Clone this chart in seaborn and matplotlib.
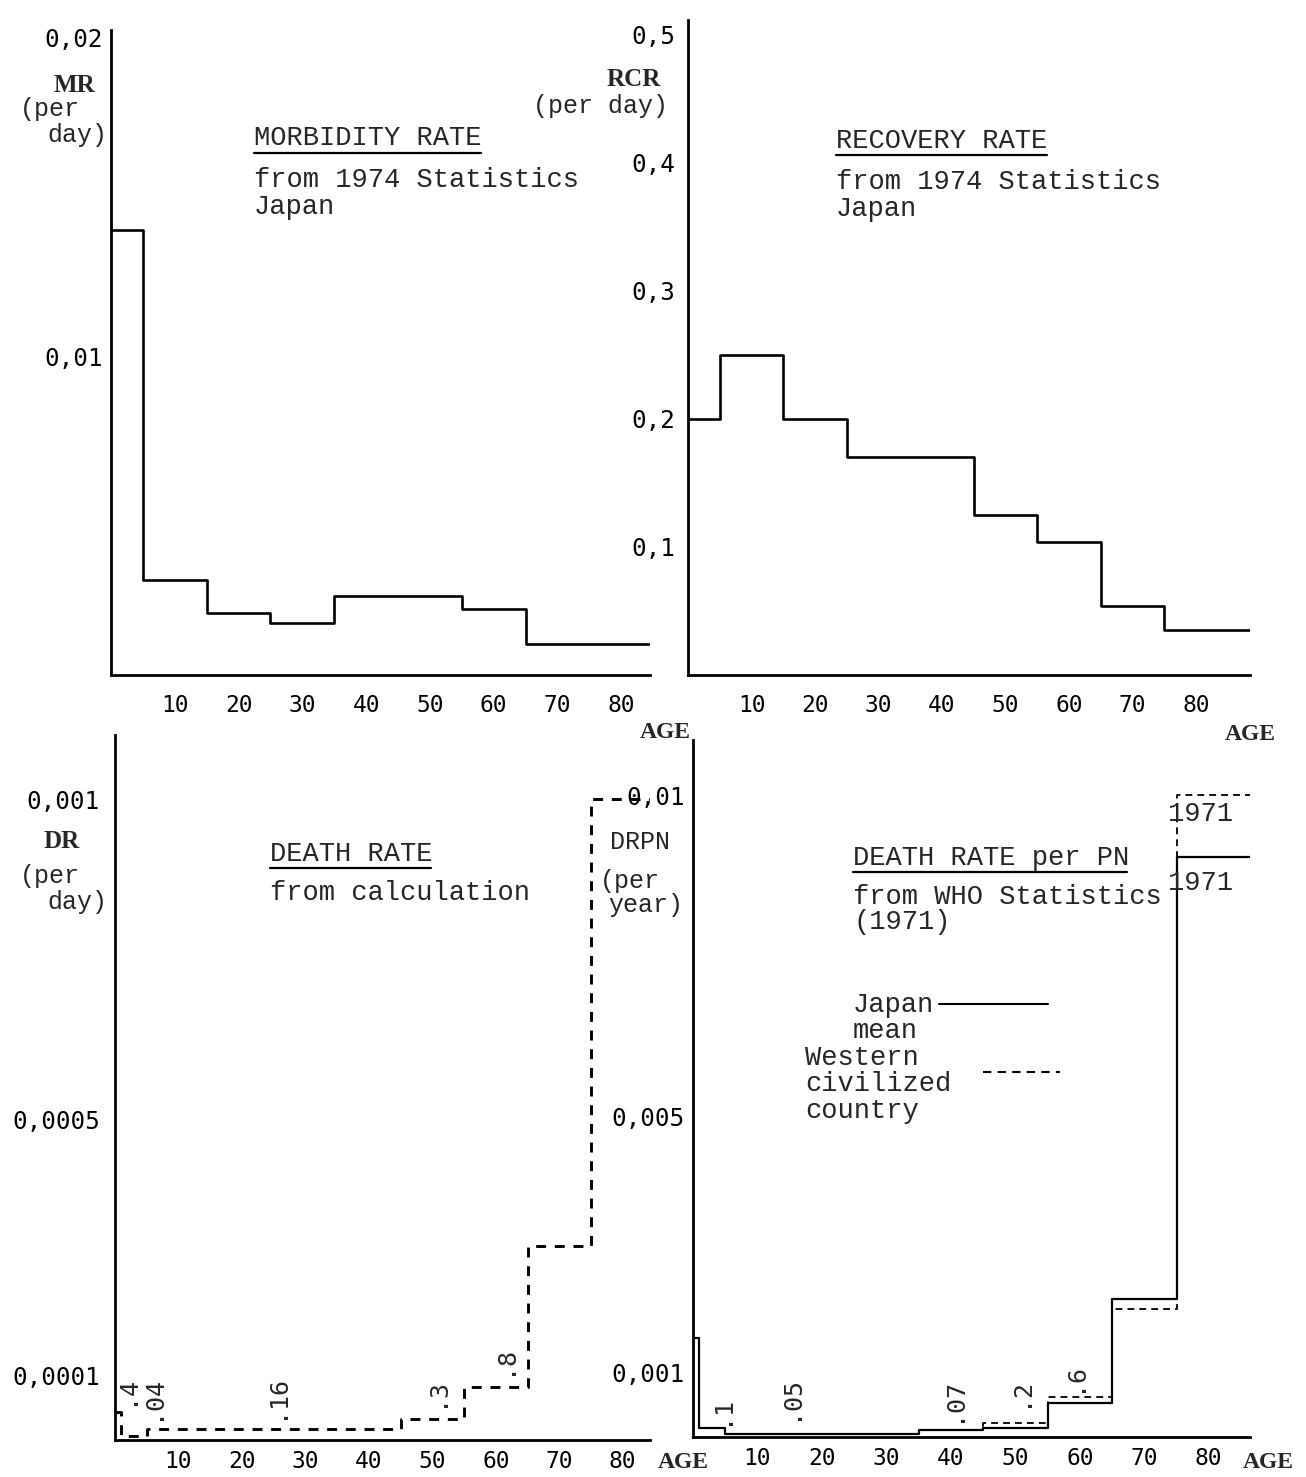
"""
plot.py
Age profiles of morbidity, recovery and death rates (Japan), four step panels.
"""

import pandas as pd
import seaborn as sns
import matplotlib.pyplot as plt
from matplotlib.lines import Line2D

# ---- data (age band edges in years, one value per band) -------------------
MR_EDGES = [0, 5, 15, 25, 35, 55, 65, 84.5]
MR_VALUES = [0.01395, 0.00298, 0.00194, 0.00163, 0.00248, 0.00207, 0.00097]

RCR_EDGES = [0, 5, 15, 25, 45, 55, 65, 75, 88.5]
RCR_VALUES = [0.200, 0.250, 0.200, 0.170, 0.125, 0.104, 0.054, 0.035]

DR_EDGES = [0, 1, 5, 45, 55, 65, 75, 85]
DR_VALUES = [0.000043, 0.000006, 0.000017, 0.000032, 0.000082, 0.000303, 0.001]
DR_NOTES = [".4", ".04", ".16", ".3", ".8"]

DRPN_EDGES = [0, 1, 5, 35, 45, 55, 65, 75, 86.4]
DRPN_JAPAN = [0.00154, 0.00014, 0.00005, 0.00011, 0.00014, 0.00053, 0.00215, 0.00903]
DRPN_WEST = [0.00154, 0.00014, 0.00005, 0.00011, 0.00022, 0.00062, 0.00199, 0.01]
DRPN_NOTES = [".1", ".05", ".07", ".2", ".6"]

AGE_TICKS = [10, 20, 30, 40, 50, 60, 70, 80]

# where the small rotated value notes sit (age, rate)
DR_NOTE_AGE = [1.7, 5.8, 25.4, 50.6, 61.3]
DR_NOTE_Y = [0.000078, 0.0000656, 0.0000672, 0.000075, 0.000125]
DRPN_NOTE_AGE = [4.3, 15.0, 40.3, 50.7, 59.1]
DRPN_NOTE_Y = [0.00042, 0.00061, 0.00058, 0.00070, 0.00093]

W, H = 1306, 1477
MONO = "Liberation Mono"
TICKFONT = "DejaVu Sans Mono"
SERIF = "Liberation Serif"

sns.set_style("white")
plt.rcParams["font.family"] = [MONO, "DejaVu Sans"]

fig = plt.figure(figsize=(W / 100, H / 100), dpi=100)


def add_axes(left, right, bottom, top):
    return fig.add_axes([left / W, 1 - bottom / H, (right - left) / W, (bottom - top) / H])


def px_text(x, y, s, size=19.5, family=MONO, ha="left", **kw):
    fig.text(x / W, 1 - y / H, s, fontsize=size, family=family, ha=ha, va="center", **kw)


def px_line(x0, x1, y, **kw):
    fig.add_artist(Line2D([x0 / W, x1 / W], [1 - y / H] * 2, transform=fig.transFigure,
                          color="black", **kw))


def steps(edges, values):
    return pd.DataFrame({"age": edges, "rate": list(values) + [values[-1]]})


def draw_steps(ax, edges, values, **kw):
    sns.lineplot(data=steps(edges, values), x="age", y="rate", ax=ax,
                 drawstyle="steps-post", color="black", sort=False, legend=False, **kw)


def style_axis(ax, xmax, ymax, yticks, ylabels, xlen, xpad, ypad):
    ax.set_xlim(0, xmax)
    ax.set_ylim(0, ymax)
    ax.set_xticks(AGE_TICKS)
    ax.set_xticklabels([str(t) for t in AGE_TICKS])
    ax.set_yticks(yticks)
    ax.set_yticklabels(ylabels)
    ax.set_xlabel("")
    ax.set_ylabel("")
    sns.despine(ax=ax)
    for side in ("left", "bottom"):
        ax.spines[side].set_linewidth(2)
        ax.spines[side].set_color("black")
    ax.tick_params(axis="x", direction="inout", length=xlen, width=1.5, pad=xpad,
                   labelsize=16.5, colors="black")
    ax.tick_params(axis="y", direction="inout", length=12, width=1.5, pad=ypad,
                   labelsize=17.5, colors="black")
    for lab in ax.get_xticklabels() + ax.get_yticklabels():
        lab.set_fontfamily(TICKFONT)
    ax.patch.set_alpha(0)


def notes(ax, labels, ages, rates):
    for note, a, v in zip(labels, ages, rates):
        ax.text(a, v, note, rotation=90, ha="center", va="center",
                fontsize=18, family=TICKFONT)


# ---- morbidity rate ---------------------------------------------------------
ax_mr = add_axes(111, 650, 675, 30)
draw_steps(ax_mr, MR_EDGES, MR_VALUES, lw=1.9)
style_axis(ax_mr, 84.5, 0.02022, [0.01, 0.02], ["0,01", "0,02"], 10, 9, 0)

# ---- recovery rate ----------------------------------------------------------
ax_rcr = add_axes(688, 1250, 675, 20)
draw_steps(ax_rcr, RCR_EDGES, RCR_VALUES, lw=1.9)
style_axis(ax_rcr, 88.5, 0.5117, [0.1, 0.2, 0.3, 0.4, 0.5],
           ["0,1", "0,2", "0,3", "0,4", "0,5"], 10, 9, 3)

# ---- death rate (calculated) ------------------------------------------------
ax_dr = add_axes(115, 650, 1440, 735)
draw_steps(ax_dr, DR_EDGES, DR_VALUES, lw=2.1, linestyle=(0, (3.4, 3.0)))
style_axis(ax_dr, 84.3, 0.0011, [0.0001, 0.0005, 0.001],
           ["0,0001", "0,0005", "0,001"], 0, 7, 5)
notes(ax_dr, DR_NOTES, DR_NOTE_AGE, DR_NOTE_Y)

# ---- death rate per PN ------------------------------------------------------
ax_drpn = add_axes(693, 1250, 1437, 740)
draw_steps(ax_drpn, DRPN_EDGES, DRPN_WEST, lw=1.3, linestyle=(0, (3.8, 2.8)))
draw_steps(ax_drpn, DRPN_EDGES, DRPN_JAPAN, lw=1.6)
style_axis(ax_drpn, 86.4, 0.010857, [0.001, 0.005, 0.01],
           ["0,001", "0,005", "0,01"], 0, 7, 0)
notes(ax_drpn, DRPN_NOTES, DRPN_NOTE_AGE, DRPN_NOTE_Y)

# ---- axis captions ----------------------------------------------------------
px_text(75, 85, "MR", size=18, family=SERIF, ha="center", weight="bold")
px_text(20, 109, "(per", size=18)
px_text(47, 135, "day)", size=18)

px_text(634, 80, "RCR", size=18, family=SERIF, ha="center", weight="bold")
px_text(533, 106, "(per day)", size=18)

px_text(62, 841, "DR", size=18, family=SERIF, ha="center", weight="bold")
px_text(20, 876, "(per", size=18)
px_text(47, 902, "day)", size=18)

px_text(610, 842, "DRPN", size=18)
px_text(600, 881, "(per", size=18)
px_text(608, 905, "year)", size=18)

px_text(665, 733, "AGE", size=17, family=SERIF, ha="center", weight="bold")
px_text(1250, 735, "AGE", size=17, family=SERIF, ha="center", weight="bold")
px_text(683, 1462, "AGE", size=17, family=SERIF, ha="center", weight="bold")
px_text(1268, 1462, "AGE", size=17, family=SERIF, ha="center", weight="bold")

# ---- panel titles -----------------------------------------------------------
px_text(254, 138, "MORBIDITY RATE")
px_line(254, 481, 153, lw=1.6)
px_text(254, 180, "from 1974 Statistics")
px_text(254, 207, "Japan")

px_text(836, 141, "RECOVERY RATE")
px_line(836, 1047, 155, lw=1.6)
px_text(836, 182, "from 1974 Statistics")
px_text(836, 209, "Japan")

px_text(270, 854, "DEATH RATE")
px_line(270, 431, 868, lw=1.6)
px_text(270, 893, "from calculation")

px_text(853, 858, "DEATH RATE per PN")
px_line(853, 1127, 872, lw=1.6)
px_text(853, 897, "from WHO Statistics")
px_text(853, 922, "(1971)")

px_text(1168, 814, "1971")
px_text(1168, 883, "1971")

# ---- legend -----------------------------------------------------------------
px_text(853, 1005, "Japan")
px_text(853, 1031, "mean")
px_text(805, 1058, "Western")
px_text(805, 1084, "civilized")
px_text(805, 1111, "country")
px_line(939, 1048, 1004, lw=1.5)
px_line(983, 1060, 1072, lw=1.5, linestyle=(0, (4, 3)))

fig.savefig("out.png", dpi=100)
plt.close(fig)
